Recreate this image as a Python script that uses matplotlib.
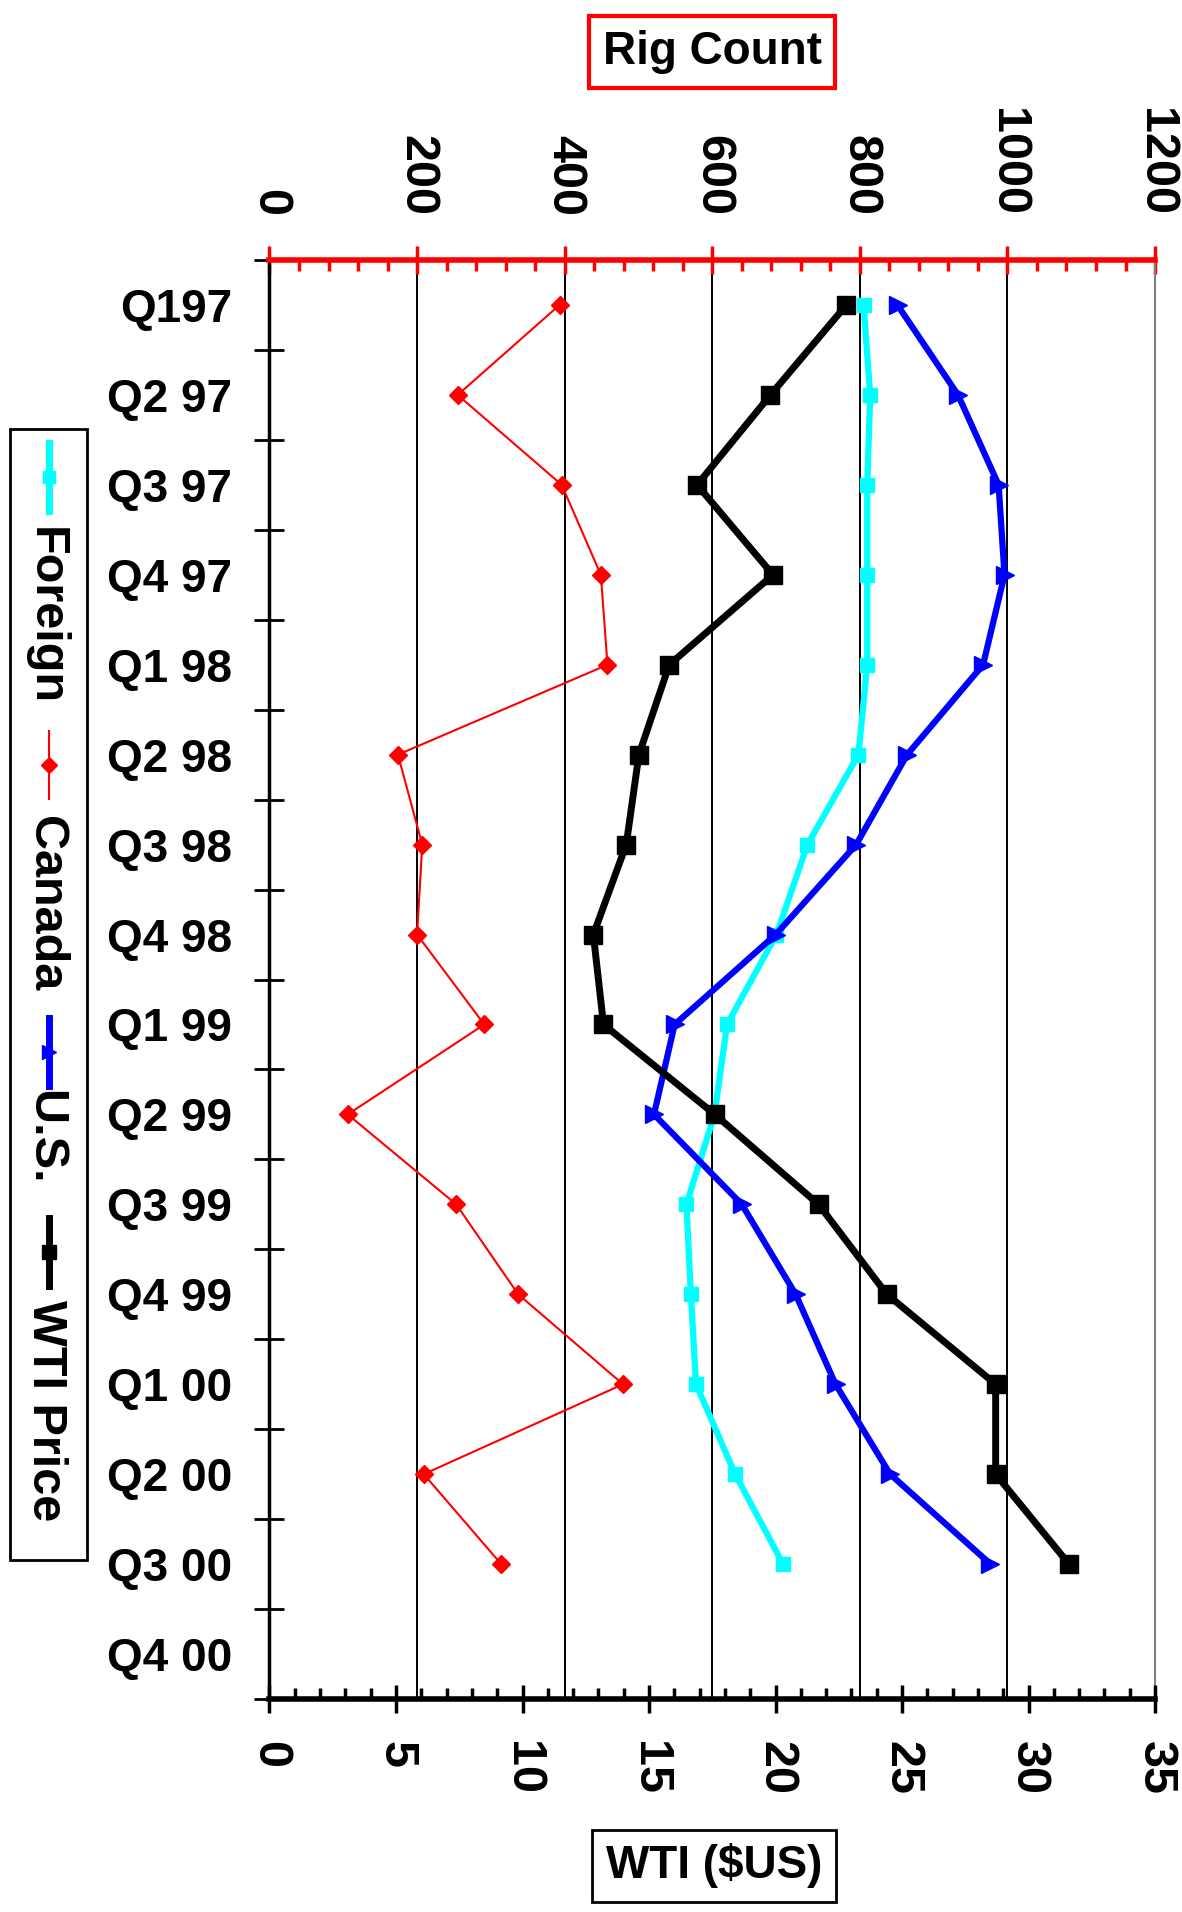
import numpy as np
import matplotlib
matplotlib.use("Agg")
import matplotlib.pyplot as plt
from matplotlib.lines import Line2D
from matplotlib.patches import Rectangle
from matplotlib.ticker import MultipleLocator

plt.rcParams['font.family'] = ['Liberation Sans', 'DejaVu Sans']
plt.rcParams['font.weight'] = 'bold'

quarters = ['Q197', 'Q2 97', 'Q3 97', 'Q4 97', 'Q1 98', 'Q2 98', 'Q3 98', 'Q4 98',
            'Q1 99', 'Q2 99', 'Q3 99', 'Q4 99', 'Q1 00', 'Q2 00', 'Q3 00', 'Q4 00']
# rig counts (top axis)
foreign = [805, 814, 810, 810, 810, 798, 729, 687, 620, 603, 565, 571, 578, 631, 696]
canada = [393, 255, 396, 449, 458, 174, 207, 200, 291, 106, 253, 337, 479, 209, 314]
us = [851, 933, 988, 996, 967, 864, 795, 686, 549, 521, 640, 713, 767, 841, 977]
# WTI price (bottom axis)
wti = [22.8, 19.8, 16.9, 19.9, 15.8, 14.6, 14.1, 12.8, 13.2, 17.6, 21.7, 24.4, 28.7, 28.7, 31.6]

fig = plt.figure(figsize=(11.82, 19.12), dpi=100)
ax = fig.add_axes([0.228, 0.1114, 0.7492, 0.7526])
ax2 = ax.twiny()
ax.xaxis.tick_top()
ax2.xaxis.tick_bottom()

pos = np.arange(len(foreign))
ax.plot(foreign, pos, color='cyan', lw=4.5, marker='s', ms=10, zorder=3)
ax.plot(canada, pos, color='red', lw=1.5, marker='D', ms=9.5, zorder=3)
ax.plot(us, pos, color='blue', lw=4.5, marker='>', ms=13, zorder=4)
ax2.plot(wti, np.arange(len(wti)), color='black', lw=5, marker='s', ms=12.5, zorder=5)

ax.set_xlim(0, 1200)
ax2.set_xlim(0, 35)
ax.set_ylim(len(quarters) - 0.5, -0.5)

ax.xaxis.set_major_locator(MultipleLocator(200))
ax.xaxis.set_minor_locator(MultipleLocator(40))
ax2.xaxis.set_major_locator(MultipleLocator(5))
ax2.xaxis.set_minor_locator(MultipleLocator(1))
ax.grid(axis='x', which='major', color='black', lw=1.4)

ax.set_yticks(np.arange(-0.5, len(quarters), 1))
ax.set_yticklabels([])
ax.set_yticks(np.arange(len(quarters)), minor=True)
ax.set_yticklabels(quarters, minor=True)

ax.tick_params(axis='x', which='major', direction='inout', length=20, width=2.5,
               color='red', pad=22, labelsize=35, labelrotation=270)
ax.tick_params(axis='x', which='minor', direction='in', length=8, width=2.5, color='red')
ax2.tick_params(axis='x', which='major', direction='inout', length=20, width=2.5,
                color='black', pad=20, labelsize=35, labelrotation=270)
ax2.tick_params(axis='x', which='minor', direction='in', length=8, width=2.5, color='black')
ax.tick_params(axis='y', which='major', direction='inout', length=22, width=2, color='black')
ax.tick_params(axis='y', which='minor', length=0, pad=27, labelsize=33)

ax.spines['top'].set_color('red')
ax.spines['top'].set_linewidth(4)
ax.spines['bottom'].set_visible(False)
ax.spines['left'].set_linewidth(2.5)
ax.spines['right'].set_color('gray')
ax.spines['right'].set_linewidth(1.5)
ax2.spines['bottom'].set_linewidth(4)
for s in ['top', 'left', 'right']:
    ax2.spines[s].set_visible(False)

fig.text(0.6024, 0.9728, 'Rig Count', fontsize=33, ha='center', va='center',
         bbox=dict(boxstyle='square,pad=0.3', fc='white', ec='red', lw=3))
fig.text(0.6041, 0.0241, 'WTI ($US)', fontsize=33, ha='center', va='center',
         bbox=dict(boxstyle='square,pad=0.3', fc='white', ec='black', lw=2))

# legend drawn by hand, rotated like the rest of the chart
H = 1912.0
fig.add_artist(Rectangle((10 / 1182, 1 - 1560 / H), 77 / 1182, 1131 / H,
                         transform=fig.transFigure, fc='white', ec='black', lw=2))
entries = [('Foreign', 'cyan', 's', 5, 9, 477, 616),
           ('Canada', 'red', 'D', 1.5, 8, 765, 904),
           ('U.S.', 'blue', '>', 5, 10, 1052, 1137),
           ('WTI Price', 'black', 's', 5, 10, 1252, 1411)]
hx = 49 / 1182
for name, c, m, lw, ms, hy, ty in entries:
    ys = [1 - (hy - 34) / H, 1 - hy / H, 1 - (hy + 34) / H]
    fig.add_artist(Line2D([hx, hx, hx], ys, transform=fig.transFigure, color=c,
                          lw=lw, marker=m, ms=ms, markevery=[1]))
    fig.text(45 / 1182, 1 - ty / H, name, fontsize=35, rotation=270,
             ha='center', va='center')

fig.savefig('out.png', dpi=100)
